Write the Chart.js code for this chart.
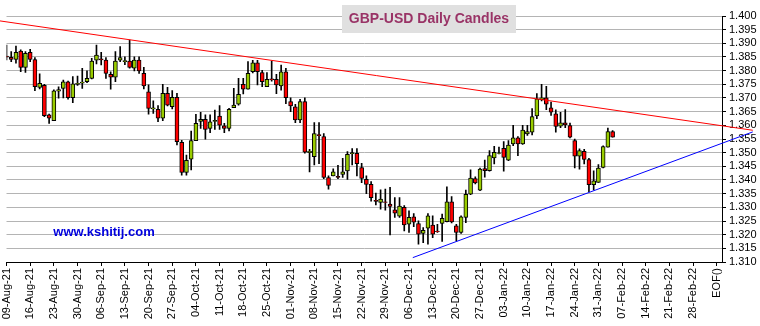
<!DOCTYPE html>
<html>
<head>
<meta charset="utf-8">
<script src="https://cdn.jsdelivr.net/npm/chart.js@4"></script>
<style>
  html, body { margin: 0; padding: 0; background: #fff; }
</style>
</head>
<body>
<canvas id="graph" width="760" height="326"></canvas>
<script>
const ctx = document.getElementById("graph");

// one label per week (every 5th trading day)
const weekLabels = [
  "09-Aug-21", "16-Aug-21", "23-Aug-21", "30-Aug-21", "06-Sep-21", "13-Sep-21",
  "20-Sep-21", "27-Sep-21", "04-Oct-21", "11-Oct-21", "18-Oct-21", "25-Oct-21",
  "01-Nov-21", "08-Nov-21", "15-Nov-21", "22-Nov-21", "29-Nov-21", "06-Dec-21",
  "13-Dec-21", "20-Dec-21", "27-Dec-21", "03-Jan-22", "10-Jan-22", "17-Jan-22",
  "24-Jan-22", "31-Jan-22", "07-Feb-22", "14-Feb-22", "21-Feb-22", "28-Feb-22",
  "EOF()",
];

const priceTicks = [
  1.31, 1.315, 1.32, 1.325, 1.33, 1.335, 1.34, 1.345, 1.35, 1.355,
  1.36, 1.365, 1.37, 1.375, 1.38, 1.385, 1.39, 1.395, 1.4,
];

// daily OHLC, one entry per trading day from 09-Aug-21
const opens = [
  1.3853, 1.3849, 1.3841, 1.3872, 1.3812, 1.3867, 1.3841, 1.3739, 1.3746, 1.3638,
  1.3617, 1.3725, 1.3735, 1.3759, 1.3701, 1.3750, 1.3754, 1.3760, 1.3772, 1.3838,
  1.3843, 1.3839, 1.3787, 1.3776, 1.3838, 1.3833, 1.3835, 1.3809, 1.3839, 1.3790,
  1.3723, 1.3660, 1.3659, 1.3626, 1.3717, 1.3668, 1.3702, 1.3538, 1.3428, 1.3476,
  1.3544, 1.3614, 1.3622, 1.3589, 1.3614, 1.3634, 1.3598, 1.3589, 1.3665, 1.3677,
  1.3750, 1.3732, 1.3796, 1.3829, 1.3793, 1.3741, 1.3770, 1.3768, 1.3744, 1.3796,
  1.3687, 1.3668, 1.3620, 1.3687, 1.3500, 1.3485, 1.3566, 1.3559, 1.3409, 1.3415,
  1.3413, 1.3420, 1.3433, 1.3496, 1.3498, 1.3445, 1.3402, 1.3384, 1.3326, 1.3318,
  1.3320, 1.3312, 1.3291, 1.3268, 1.3300, 1.3238, 1.3265, 1.3241, 1.3205, 1.3224,
  1.3235, 1.3213, 1.3241, 1.3248, 1.3320, 1.3232, 1.3208, 1.3263, 1.3348, 1.3405,
  1.3363, 1.3442, 1.3434, 1.3481, 1.3497, 1.3516, 1.3473, 1.3532, 1.3554, 1.3532,
  1.3569, 1.3575, 1.3634, 1.3694, 1.3701, 1.3664, 1.3642, 1.3597, 1.3609, 1.3599,
  1.3544, 1.3487, 1.3505, 1.3475, 1.3383, 1.3391, 1.3446, 1.3520, 1.3577,
];
const highs = [
  1.3894, 1.3870, 1.3890, 1.3876, 1.3870, 1.3878, 1.3848, 1.3788, 1.3750, 1.3641,
  1.3730, 1.3741, 1.3766, 1.3762, 1.3778, 1.3780, 1.3809, 1.3799, 1.3845, 1.3894,
  1.3867, 1.3848, 1.3796, 1.3870, 1.3888, 1.3851, 1.3912, 1.3851, 1.3851, 1.3812,
  1.3748, 1.3690, 1.3672, 1.3750, 1.3739, 1.3727, 1.3717, 1.3545, 1.3491, 1.3579,
  1.3640, 1.3648, 1.3638, 1.3638, 1.3656, 1.3672, 1.3607, 1.3662, 1.3735, 1.3772,
  1.3772, 1.3833, 1.3838, 1.3838, 1.3801, 1.3793, 1.3835, 1.3787, 1.3820, 1.3809,
  1.3701, 1.3677, 1.3695, 1.3701, 1.3512, 1.3610, 1.3610, 1.3570, 1.3415, 1.3441,
  1.3454, 1.3479, 1.3504, 1.3515, 1.3515, 1.3461, 1.3415, 1.3394, 1.3352, 1.3364,
  1.3367, 1.3373, 1.3336, 1.3336, 1.3306, 1.3287, 1.3277, 1.3251, 1.3226, 1.3277,
  1.3269, 1.3238, 1.3275, 1.3375, 1.3339, 1.3238, 1.3269, 1.3363, 1.3437, 1.3412,
  1.3444, 1.3473, 1.3508, 1.3523, 1.3520, 1.3541, 1.3544, 1.3600, 1.3559, 1.3600,
  1.3600, 1.3661, 1.3716, 1.3750, 1.3743, 1.3685, 1.3657, 1.3648, 1.3658, 1.3608,
  1.3550, 1.3514, 1.3512, 1.3479, 1.3434, 1.3456, 1.3525, 1.3590, 1.3581,
];
const lows = [
  1.3839, 1.3833, 1.3827, 1.3796, 1.3794, 1.3833, 1.3727, 1.3733, 1.3632, 1.3607,
  1.3617, 1.3699, 1.3700, 1.3696, 1.3683, 1.3746, 1.3735, 1.3756, 1.3770, 1.3825,
  1.3821, 1.3772, 1.3732, 1.3760, 1.3833, 1.3822, 1.3809, 1.3799, 1.3790, 1.3733,
  1.3641, 1.3644, 1.3613, 1.3617, 1.3671, 1.3660, 1.3528, 1.3418, 1.3418, 1.3437,
  1.3544, 1.3589, 1.3549, 1.3573, 1.3585, 1.3585, 1.3573, 1.3580, 1.3665, 1.3674,
  1.3715, 1.3732, 1.3792, 1.3748, 1.3741, 1.3741, 1.3762, 1.3716, 1.3729, 1.3679,
  1.3650, 1.3610, 1.3610, 1.3498, 1.3430, 1.3455, 1.3460, 1.3405, 1.3366, 1.3415,
  1.3405, 1.3409, 1.3402, 1.3455, 1.3415, 1.3390, 1.3350, 1.3323, 1.3309, 1.3293,
  1.3290, 1.3199, 1.3263, 1.3263, 1.3214, 1.3208, 1.3229, 1.3165, 1.3171, 1.3165,
  1.3189, 1.3208, 1.3175, 1.3247, 1.3243, 1.3177, 1.3205, 1.3244, 1.3346, 1.3386,
  1.3361, 1.3410, 1.3432, 1.3459, 1.3495, 1.3432, 1.3471, 1.3526, 1.3489, 1.3530,
  1.3563, 1.3565, 1.3624, 1.3689, 1.3657, 1.3636, 1.3575, 1.3591, 1.3591, 1.3554,
  1.3444, 1.3440, 1.3459, 1.3357, 1.3364, 1.3391, 1.3444, 1.3520, 1.3557,
];
const closes = [
  1.3849, 1.3841, 1.3867, 1.3812, 1.3863, 1.3841, 1.3741, 1.3754, 1.3635, 1.3626,
  1.3726, 1.3731, 1.3759, 1.3701, 1.3752, 1.3754, 1.3758, 1.3772, 1.3835, 1.3857,
  1.3839, 1.3790, 1.3776, 1.3835, 1.3848, 1.3837, 1.3812, 1.3839, 1.3799, 1.3744,
  1.3662, 1.3664, 1.3626, 1.3717, 1.3674, 1.3702, 1.3540, 1.3428, 1.3472, 1.3544,
  1.3607, 1.3622, 1.3585, 1.3613, 1.3618, 1.3601, 1.3589, 1.3659, 1.3674, 1.3713,
  1.3732, 1.3790, 1.3829, 1.3796, 1.3760, 1.3768, 1.3766, 1.3748, 1.3796, 1.3701,
  1.3671, 1.3620, 1.3687, 1.3502, 1.3506, 1.3570, 1.3562, 1.3409, 1.3380, 1.3430,
  1.3409, 1.3430, 1.3494, 1.3500, 1.3460, 1.3406, 1.3384, 1.3335, 1.3322, 1.3330,
  1.3318, 1.3303, 1.3279, 1.3305, 1.3236, 1.3263, 1.3246, 1.3202, 1.3216, 1.3269,
  1.3202, 1.3211, 1.3260, 1.3320, 1.3247, 1.3208, 1.3265, 1.3348, 1.3407, 1.3389,
  1.3440, 1.3434, 1.3489, 1.3501, 1.3499, 1.3483, 1.3528, 1.3554, 1.3532, 1.3583,
  1.3577, 1.3632, 1.3697, 1.3701, 1.3677, 1.3648, 1.3596, 1.3609, 1.3602, 1.3557,
  1.3487, 1.3508, 1.3475, 1.3383, 1.3397, 1.3444, 1.3522, 1.3577, 1.3557,
];

// trend lines, x in trading days
const resistance = [
  { x: -1.37, y: 1.3982 },
  { x: 157.6, y: 1.3582 },
];
const support = [
  { x: 85.8, y: 1.3116 },
  { x: 157.6, y: 1.3576 },
];

const FONT = '"Liberation Sans", Arial, sans-serif';
Chart.defaults.font.family = FONT;

const candleBodies = opens.map((o, i) => ({ x: i, y: [o, closes[i]] }));
const candleWicks = opens.map((o, i) => ({ x: i, y: [lows[i], highs[i]] }));
const bodyColors = opens.map((o, i) => (closes[i] >= o ? "#99cc00" : "#ff0000"));

const overlayText = {
  id: "overlayText",
  afterDraw(chart) {
    const c = chart.ctx;
    c.save();
    c.fillStyle = "#e0e0e0";
    c.fillRect(342, 5, 174, 28);
    c.textAlign = "center";
    c.textBaseline = "middle";
    c.font = "bold 14px " + FONT;
    c.fillStyle = "#993366";
    c.fillText("GBP-USD Daily Candles", 429, 19.5);
    c.font = "bold 13px " + FONT;
    c.fillStyle = "#0000dd";
    c.fillText("www.kshitij.com", 104, 232);
    c.restore();
  },
};

new Chart(ctx, {
  type: "bar",
  data: {
    datasets: [
      {
        type: "line",
        data: resistance,
        borderColor: "#ff0000",
        borderWidth: 1,
        pointRadius: 0,
        clip: false,
        order: 0,
      },
      {
        type: "line",
        data: support,
        borderColor: "#0000ff",
        borderWidth: 1,
        pointRadius: 0,
        clip: false,
        order: 0,
      },
      {
        data: candleBodies,
        backgroundColor: bodyColors,
        borderColor: "#000",
        borderWidth: 1,
        borderSkipped: false,
        barThickness: 4,
        grouped: false,
        order: 1,
      },
      {
        data: candleWicks,
        backgroundColor: "#000",
        borderWidth: 0,
        barThickness: 1,
        grouped: false,
        order: 2,
      },
    ],
  },
  options: {
    responsive: false,
    animation: false,
    layout: {
      padding: { top: 16, left: 6.5, right: 0, bottom: 0 },
    },
    plugins: {
      legend: { display: false },
      tooltip: { enabled: false },
    },
    scales: {
      x: {
        type: "linear",
        min: 0,
        max: 151.1,
        offset: false,
        grid: {
          offset: false,
          drawOnChartArea: false,
          tickLength: 4,
          tickColor: "#000",
        },
        border: { color: "#000", width: 1 },
        ticks: {
          autoSkip: false,
          minRotation: 90,
          maxRotation: 90,
          padding: 2,
          color: "#000",
          font: { size: 11 },
          callback: function (value, index) {
            return weekLabels[index];
          },
        },
        afterBuildTicks: function (scale) {
          scale.ticks = weekLabels.map((_, k) => ({ value: k * 5 }));
        },
        afterFit: function (scale) {
          scale.height = 64;
          scale.paddingLeft = 0;
          scale.paddingRight = 0;
        },
      },
      y: {
        type: "linear",
        position: "right",
        min: 1.31,
        max: 1.4,
        grid: {
          color: "#b4b4b4",
          lineWidth: 1,
          tickLength: 4,
          tickColor: "#000",
        },
        border: { color: "#000", width: 1 },
        ticks: {
          autoSkip: false,
          padding: 3,
          color: "#000",
          font: { size: 11 },
          callback: function (value) {
            return value.toFixed(3);
          },
        },
        afterBuildTicks: function (scale) {
          scale.ticks = priceTicks.map((v) => ({ value: v }));
        },
        afterFit: function (scale) {
          scale.width = 38;
        },
      },
    },
  },
  plugins: [overlayText],
});
</script>
</body>
</html>
